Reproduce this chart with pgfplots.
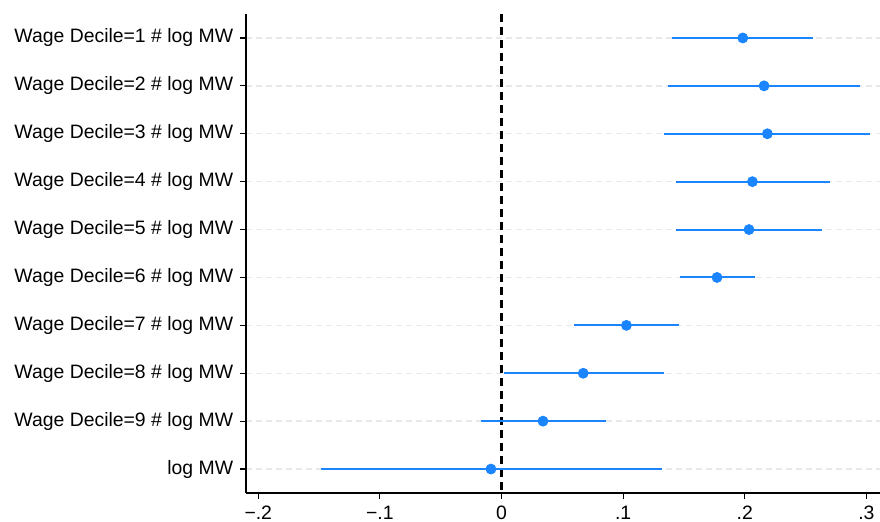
\documentclass[border=0pt]{standalone}
\usepackage{pgfplots}
\pgfplotsset{compat=1.18}
\usepackage{fontspec}
\setmainfont{Liberation Sans}
\definecolor{stcblue}{RGB}{26,133,255}
\definecolor{gridgray}{RGB}{232,232,232}

% row  b  errplus  errminus
\pgfplotstableread{
row b ep em
1 0.1984 0.0578 0.0579
2 0.2159 0.0792 0.0790
3 0.2186 0.0844 0.0850
4 0.2063 0.0636 0.0628
5 0.2035 0.0601 0.0597
6 0.1772 0.0313 0.0307
7 0.1027 0.0435 0.0435
8 0.0672 0.0666 0.0655
9 0.0341 0.0519 0.0512
10 -0.0087 0.1405 0.1401
}\coefs

\begin{document}
\fontsize{9.7}{11.6}\selectfont
\begin{tikzpicture}
\begin{axis}[scale only axis,width=317pt,height=239.5pt,
  xmin=-0.2101,xmax=0.3112,ymin=0.5,ymax=10.5,y dir=reverse,
  axis x line=bottom,axis y line=left,axis line style={-,line width=0.7pt},
  tick align=outside,major tick length=3pt,
  tick style={black,line width=0.6pt},
  xtick={-0.2,-0.1,0,0.1,0.2,0.3},
  xticklabels={−.2,−.1,0,.1,.2,.3},
  ytick={1,...,10},
  yticklabels={Wage Decile=1 \# log MW,Wage Decile=2 \# log MW,
    Wage Decile=3 \# log MW,Wage Decile=4 \# log MW,Wage Decile=5 \# log MW,
    Wage Decile=6 \# log MW,Wage Decile=7 \# log MW,Wage Decile=8 \# log MW,
    Wage Decile=9 \# log MW,log MW},
  ticklabel style={font=\fontsize{9.7}{11.6}\selectfont},
  yticklabel style={xshift=0pt},
  ymajorgrids,major grid style={gridgray,line width=0.7pt,dash pattern=on 3pt off 2pt},
  clip=false]
\addplot[black,line width=1.1pt,dash pattern=on 4pt off 2.5pt] coordinates {(0,0.5)(0,10.5)};
\addplot[stcblue,only marks,mark=*,mark size=2.5pt,
  error bars/.cd,x dir=both,x explicit,error mark=none,
  error bar style={stcblue,line width=1pt}]
  table[x=b,y=row,x error plus=ep,x error minus=em] {\coefs};
\coordinate (ll) at (rel axis cs:0,0);
\coordinate (ur) at (rel axis cs:1,1);
\end{axis}
\pgfresetboundingbox
\path[use as bounding box] ([xshift=-123pt,yshift=-14pt]ll) rectangle ([yshift=7pt]ur);
\end{tikzpicture}
\end{document}
